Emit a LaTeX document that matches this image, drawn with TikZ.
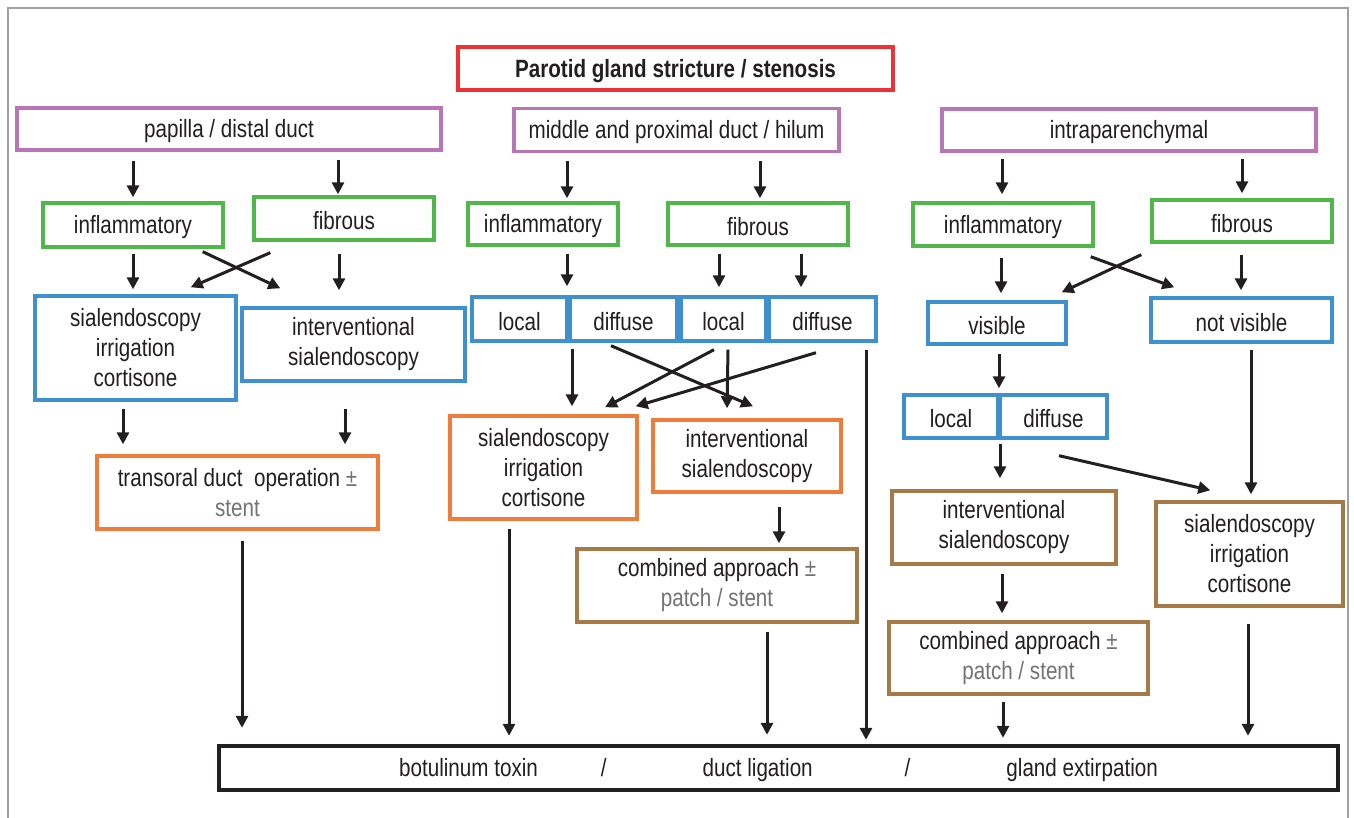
\documentclass[tikz,border=0pt]{standalone}
\usepackage{fontspec}
\setmainfont{Liberation Sans}[FakeStretch=0.825]
\usepackage{tikz}
\usetikzlibrary{positioning,arrows.meta}
\definecolor{titlered}{RGB}{237,50,55}
\definecolor{sitepurple}{RGB}{186,117,182}
\definecolor{typegreen}{RGB}{80,183,72}
\definecolor{findblue}{RGB}{62,144,207}
\definecolor{treatorange}{RGB}{240,124,60}
\definecolor{treatbrown}{RGB}{166,122,70}
\definecolor{txtgray}{RGB}{115,115,115}
\definecolor{txtdark}{RGB}{35,31,32}
\definecolor{framegray}{RGB}{160,160,160}

\begin{document}
\begin{tikzpicture}[
node distance=40pt,
box/.style={rectangle, draw, line width=1.7pt, fill=white, inner sep=1pt, align=center, execute at begin node={\rule{0pt}{11.5pt}}, text=txtdark, font=\fontsize{12.5}{15}\selectfont},
titlebox/.style={box, draw=titlered, font=\bfseries\fontsize{12.5}{15}\selectfont},
sitebox/.style={box, draw=sitepurple},
typebox/.style={box, draw=typegreen},
findbox/.style={box, draw=findblue},
treatbox/.style={box, draw=treatorange},
laterbox/.style={box, draw=treatbrown},
finalbox/.style={box, draw=txtdark, line width=2.2pt},
arr/.style={-{Triangle[length=6pt,width=6pt]}, line width=1.5pt, draw=txtdark}
]
\useasboundingbox (0,0) rectangle (677pt,-409pt);
%Frame
\draw[framegray, line width=0.75pt] (4pt,-412pt) -- (4pt,-4pt) -- (674pt,-4pt) -- (674pt,-412pt);
%Nodes
\node[titlebox, minimum width=217.5pt, minimum height=21.5pt] (title) at (337.75pt,-34.25pt) {Parotid gland stricture / stenosis};
\node[sitebox, minimum width=212pt, minimum height=21pt]      (distal)  [below of=title, xshift=-223.25pt, yshift=9.75pt] {papilla / distal duct};
\node[sitebox, minimum width=162.5pt, minimum height=21.5pt]  (middle)  [below of=title, xshift=0.5pt, yshift=9.25pt]     {middle and proximal duct / hilum};
\node[sitebox, minimum width=187pt, minimum height=21pt]      (intra)   [below of=title, xshift=226.75pt, yshift=9.25pt]  {intraparenchymal};
\node[typebox, minimum width=90pt, minimum height=22pt]       (infl1)   [below of=distal, xshift=-48pt, yshift=-8pt]      {inflammatory};
\node[typebox, minimum width=90pt, minimum height=21.5pt]     (fib1)    [below of=distal, xshift=57.5pt, yshift=-4.75pt]  {fibrous};
\node[typebox, minimum width=75pt, minimum height=21pt]       (infl2)   [below of=middle, xshift=-66.75pt, yshift=-7pt]   {inflammatory};
\node[typebox, minimum width=90pt, minimum height=21pt]       (fib2)    [below of=middle, xshift=40.75pt, yshift=-7pt]    {fibrous};
\node[typebox, minimum width=90pt, minimum height=21.5pt]     (infl3)   [below of=intra, xshift=-63pt, yshift=-7.25pt]    {inflammatory};
\node[typebox, minimum width=90pt, minimum height=21pt]       (fib3)    [below of=intra, xshift=56.5pt, yshift=-5.5pt]    {fibrous};
\node[findbox, minimum width=100.5pt, minimum height=52pt]    (sialo1)  [below of=infl1, xshift=1.25pt, yshift=-21.5pt]   {sialendoscopy\\irrigation\\cortisone};
\node[findbox, minimum width=111.5pt, minimum height=36.5pt]  (interv1) [below of=fib1, xshift=4.75pt, yshift=-23pt]      {interventional\\sialendoscopy};
\node[findbox, minimum width=47.5pt, minimum height=22pt]     (loc1)    [below of=infl2, xshift=-11.75pt, yshift=-7.5pt]  {local};
\node[findbox, minimum width=53.5pt, minimum height=22pt]     (dif1)    [below of=infl2, xshift=40.25pt, yshift=-7.5pt]   {diffuse};
\node[findbox, minimum width=42.5pt, minimum height=22pt]     (loc2)    [below of=fib2, xshift=-17.25pt, yshift=-7.5pt]   {local};
\node[findbox, minimum width=53.5pt, minimum height=22pt]     (dif2)    [below of=fib2, xshift=32.25pt, yshift=-7.5pt]    {diffuse};
\node[findbox, minimum width=69pt, minimum height=21pt]       (vis)     [below of=infl3, xshift=-3pt, yshift=-9.25pt]     {visible};
\node[findbox, minimum width=90.5pt, minimum height=22pt]     (nvis)    [below of=fib3, xshift=-0.25pt, yshift=-9.5pt]    {not visible};
\node[findbox, minimum width=47pt, minimum height=21.5pt]     (loc3)    [below of=vis, xshift=-23pt, yshift=-6.75pt]      {local};
\node[findbox, minimum width=53.5pt, minimum height=21.5pt]   (dif3)    [below of=vis, xshift=28.25pt, yshift=-6.75pt]    {diffuse};
\node[treatbox, minimum width=140.5pt, minimum height=36.5pt] (trans)   [below of=sialo1, xshift=51pt, yshift=-32.25pt]   {transoral duct\ \ operation {\color{txtgray}±}\\{\color{txtgray}stent}};
\node[treatbox, minimum width=93.5pt, minimum height=51.5pt]  (sialo2)  [below of=loc1, xshift=12pt, yshift=-34.25pt]     {sialendoscopy\\irrigation\\cortisone};
\node[treatbox, minimum width=94pt, minimum height=36pt]      (interv2) [below of=loc2, xshift=11.75pt, yshift=-28.5pt]   {interventional\\sialendoscopy};
\node[laterbox, minimum width=140pt, minimum height=36.5pt]   (comb1)   [below of=interv2, xshift=-15pt, yshift=-24.75pt] {combined approach {\color{txtgray}±}\\{\color{txtgray}patch / stent}};
\node[laterbox, minimum width=112pt, minimum height=36.5pt]   (interv3) [below of=loc3, xshift=26.5pt, yshift=-15.5pt]    {interventional\\sialendoscopy};
\node[laterbox, minimum width=93.5pt, minimum height=52pt]    (sialo3)  [below of=nvis, xshift=4pt, yshift=-77pt]         {sialendoscopy\\irrigation\\cortisone};
\node[laterbox, minimum width=129.5pt, minimum height=36pt]   (comb2)   [below of=interv3, xshift=7.25pt, yshift=-25.25pt] {combined approach {\color{txtgray}±}\\{\color{txtgray}patch / stent}};
\node[finalbox, minimum width=559.5pt, minimum height=22pt]   (final)   [below of=comb1, xshift=30.75pt, yshift=-51.25pt] {botulinum toxin\hspace{31.5pt}/\hspace{48pt}duct ligation\hspace{46pt}/\hspace{48pt}gland extirpation};
%Lines
\draw[arr, shorten <=4.5pt, shorten >=2pt] (infl1.north |- distal.south) -- (infl1.north);
\draw[arr, shorten <=4pt, shorten >=0.5pt] ([xshift=-3pt]fib1.north |- distal.south) -- ([xshift=-3pt]fib1.north);
\draw[arr, shorten <=4pt, shorten >=1.5pt] ([xshift=12pt]infl2.north |- middle.south) -- ([xshift=12pt]infl2.north);
\draw[arr, shorten <=4pt, shorten >=1.5pt] ([xshift=1pt]fib2.north |- middle.south) -- ([xshift=1pt]fib2.north);
\draw[arr, shorten <=3pt, shorten >=3.5pt] ([xshift=-0.5pt]infl3.north |- intra.south) -- ([xshift=-0.5pt]infl3.north);
\draw[arr, shorten <=3pt, shorten >=2.5pt] (fib3.north |- intra.south) -- (fib3.north);
\draw[arr, shorten <=2.5pt, shorten >=2.5pt] (infl1.south) -- (infl1.south |- sialo1.north);
\draw[arr] ([xshift=-11pt, yshift=-1.5pt]infl1.south east) -- ([xshift=20pt, yshift=9pt]interv1.north west);
\draw[arr] ([xshift=9pt, yshift=-5.5pt]fib1.south west) -- ([xshift=-23.5pt, yshift=3.5pt]sialo1.north east);
\draw[arr, shorten <=6pt, shorten >=8pt] ([xshift=-2.5pt]fib1.south) -- ([xshift=-2.5pt]fib1.south |- interv1.north);
\draw[arr, shorten <=3.5pt, shorten >=4.5pt] ([xshift=12pt]infl2.south) -- ([xshift=12pt]infl2.south |- loc1.north);
\draw[arr, shorten <=3.5pt, shorten >=4pt] ([xshift=-19.5pt]fib2.south) -- ([xshift=-19.5pt]fib2.south |- loc2.north);
\draw[arr, shorten <=3.5pt, shorten >=4pt] ([xshift=21.5pt]fib2.south) -- ([xshift=21.5pt]fib2.south |- dif2.north);
\draw[arr, shorten <=5pt, shorten >=3.5pt] ([xshift=-1pt]infl3.south) -- ([xshift=-1pt]infl3.south |- vis.north);
\draw[arr] ([xshift=-2pt, yshift=-4.5pt]infl3.south east) -- ([xshift=12.5pt, yshift=4.5pt]nvis.north west);
\draw[arr] ([xshift=-4.5pt, yshift=-5.5pt]fib3.south west) -- ([xshift=-3pt, yshift=4pt]vis.north east);
\draw[arr, shorten <=5.5pt, shorten >=3pt] ([xshift=-0.5pt]fib3.south) -- ([xshift=-0.5pt]fib3.south |- nvis.north);
\draw[arr, shorten <=3.5pt, shorten >=5pt] ([xshift=-6.25pt]sialo1.south) -- ([xshift=-6.25pt]sialo1.south |- trans.north);
\draw[arr, shorten <=13pt, shorten >=5pt] ([xshift=-4.25pt]interv1.south) -- ([xshift=-4.25pt]interv1.south |- trans.north);
\draw[arr, shorten <=3pt, shorten >=4pt] ([xshift=14.25pt]sialo2.north |- loc1.south) -- ([xshift=14.25pt]sialo2.north);
\draw[arr] ([xshift=-6.25pt, yshift=-1.5pt]dif1.south) -- ([xshift=3pt, yshift=6pt]interv2.north);
\draw[arr] ([xshift=-4.75pt, yshift=-3.5pt]loc2.south) -- ([xshift=30.75pt, yshift=3.5pt]sialo2.north);
\draw[arr] ([xshift=2.25pt, yshift=-3.5pt]loc2.south) -- ([xshift=-10pt, yshift=5pt]interv2.north);
\draw[arr] ([xshift=-3.25pt, yshift=-5pt]dif2.south) -- ([xshift=-1.5pt, yshift=4pt]sialo2.north east);
\draw[arr, shorten <=3.5pt, shorten >=2pt] ([xshift=21.75pt]dif2.south) -- ([xshift=21.75pt]dif2.south |- final.north);
\draw[arr, shorten <=6.5pt, shorten >=2pt] ([xshift=16pt]interv2.south) -- ([xshift=16pt]interv2.south |- comb1.north);
\draw[arr, shorten <=4pt, shorten >=4pt] ([xshift=-17.25pt]sialo2.south) -- ([xshift=-17.25pt]sialo2.south |- final.north);
\draw[arr, shorten <=4pt, shorten >=4.5pt] ([xshift=25pt]comb1.south) -- ([xshift=25pt]comb1.south |- final.north);
\draw[arr, shorten <=5pt, shorten >=8pt] ([xshift=2.25pt]trans.south) -- ([xshift=2.25pt]trans.south |- final.north);
\draw[arr, shorten <=4pt, shorten >=2.5pt] ([xshift=1pt]vis.south) -- ([xshift=1pt]vis.south |- loc3.north);
\draw[arr, shorten <=2pt, shorten >=5.5pt] ([xshift=-2pt]interv3.north |- loc3.south) -- ([xshift=-2pt]interv3.north);
\draw[arr] ([xshift=2.75pt, yshift=-8pt]dif3.south) -- ([xshift=28pt, yshift=5pt]sialo3.north west);
\draw[arr, shorten <=3pt, shorten >=3pt] ([xshift=4.75pt]nvis.south) -- ([xshift=4.75pt]nvis.south |- sialo3.north);
\draw[arr, shorten <=4pt, shorten >=3.5pt] ([xshift=-1pt]interv3.south) -- ([xshift=-1pt]interv3.south |- comb2.north);
\draw[arr, shorten <=3pt, shorten >=3pt] ([xshift=-7.75pt]comb2.south) -- ([xshift=-7.75pt]comb2.south |- final.north);
\draw[arr, shorten <=8pt, shorten >=4pt] ([xshift=-0.75pt]sialo3.south) -- ([xshift=-0.75pt]sialo3.south |- final.north);
\end{tikzpicture}
\end{document}
